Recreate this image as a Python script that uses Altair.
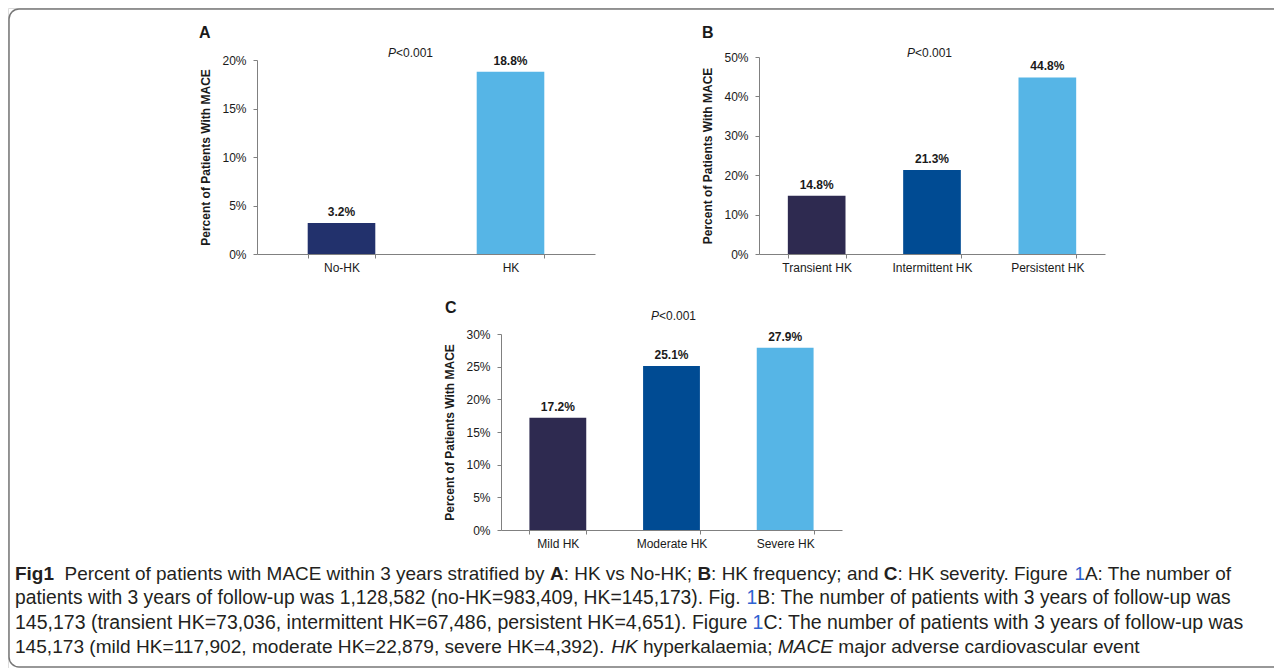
import altair as alt
import pandas as pd

# ---------------- data ----------------
cats_a = ["No-HK", "HK"]
vals_a = [3.2, 18.8]
cats_b = ["Transient HK", "Intermittent HK", "Persistent HK"]
vals_b = [14.8, 21.3, 44.8]
cats_c = ["Mild HK", "Moderate HK", "Severe HK"]
vals_c = [17.2, 25.1, 27.9]
ticks_a = [0, 5, 10, 15, 20]
ticks_b = [0, 10, 20, 30, 40, 50]
ticks_c = [0, 5, 10, 15, 20, 25, 30]
p_letter = "P"
p_rest = "<0.001"
y_title = "Percent of Patients With MACE"

caption_texts = [
    ["Fig1", "\u00a0\u00a0Percent of patients with MACE within 3 years stratified by ", "A",
     ": HK vs No-HK; ", "B", ": HK frequency; and ", "C", ": HK severity. Figure ", "1",
     "A: The number of"],
    ["patients with 3 years of follow-up was 1,128,582 (no-HK=983,409, HK=145,173). Fig. ", "1",
     "B: The number of patients with 3 years of follow-up was"],
    ["145,173 (transient HK=73,036, intermittent HK=67,486, persistent HK=4,651). Figure ", "1",
     "C: The number of patients with 3 years of follow-up was"],
    ["145,173 (mild HK=117,902, moderate HK=22,879, severe HK=4,392). ", "HK",
     " hyperkalaemia; ", "MACE", " major adverse cardiovascular event"],
]

# ---------------- styles / layout ----------------
caption_styles = [
    ["b", "n", "b", "n", "b", "n", "b", "n", "l", "n"],
    ["n", "l", "n"],
    ["n", "l", "n"],
    ["n", "i", "n", "i", "n"],
]
OX, OY = 8, 10                      # page position of the view origin
W, H = 1266, 660
cap_x0 = 15
cap_base = [582, 606, 631, 655]     # page baselines of caption lines
cap_size = [18.95, 19.3, 19.5, 19.1]

colors_a = ["#22316c", "#56b5e6"]
colors_bc = ["#2e2a50", "#004b93", "#56b5e6"]
FONT = "Liberation Sans"
CAP_COLOR = "#231f20"
LINK_COLOR = "#2f63d1"
AXIS_GREY = "#808080"
TXT = "#1a1a1a"

# Arial / Liberation Sans advance widths (per 1000 em) used to lay out the caption runs
_REG = dict(zip("abcdefghijklmnopqrstuvwxyz",
                [556, 556, 500, 556, 556, 278, 556, 556, 222, 222, 500, 222, 833, 556, 556, 556,
                 556, 333, 500, 278, 556, 500, 722, 500, 500, 500]))
_REG.update(zip("ABCDEFGHIJKLMNOPQRSTUVWXYZ",
                [667, 667, 722, 722, 667, 611, 778, 722, 278, 500, 667, 556, 833, 722, 778, 667,
                 778, 722, 667, 611, 722, 667, 944, 667, 667, 611]))
_REG.update({d: 556 for d in "0123456789"})
_REG.update({" ": 278, "\u00a0": 278, "(": 333, ")": 333, ",": 278, "-": 333, ".": 278,
             ":": 278, ";": 278, "=": 584, "<": 584, "%": 889})
_BOLD = {"F": 611, "i": 278, "g": 611, "1": 556, "A": 722, "B": 722, "C": 722, " ": 278}


def run_width(s, size, bold=False):
    tot = 0
    for ch in s:
        tot += (_BOLD.get(ch, _REG.get(ch, 556)) if bold else _REG.get(ch, 556))
    return tot * size / 1000.0


def panel(cats, vals, ticks, colors, pad, left, right, top, bottom):
    x0, x1 = left - OX, right - OX
    y0, y1 = bottom - OY, top - OY
    df = pd.DataFrame({"cat": cats, "val": vals, "label": [f"{v:.1f}%" for v in vals]})
    x = alt.X("cat:N", sort=cats,
              scale=alt.Scale(range=[x0, x1], paddingInner=pad, paddingOuter=pad / 2),
              axis=alt.Axis(title=None, orient="bottom", offset=y0 - H, labelAngle=0,
                            tickBand="extent", tickSize=4, labelPadding=4, labelFont=FONT,
                            labelFontSize=12, labelColor=TXT, domainColor=AXIS_GREY,
                            tickColor=AXIS_GREY, grid=False, labelOverlap=False))
    y = alt.Y("val:Q",
              scale=alt.Scale(domain=[ticks[0], ticks[-1]], range=[y0, y1], nice=False),
              axis=alt.Axis(orient="left", offset=-x0, values=ticks,
                            labelExpr="datum.value + '%'", title=y_title,
                            titleFont=FONT, titleFontSize=12, titleFontWeight="bold",
                            titleColor=TXT, titlePadding=9, labelFont=FONT,
                            labelFontSize=12, labelColor=TXT, labelPadding=7, tickSize=4,
                            domainColor=AXIS_GREY, tickColor=AXIS_GREY, grid=False,
                            labelOverlap=False))
    base = alt.Chart(df)
    bars = base.mark_bar().encode(
        x=x, y=y,
        color=alt.Color("cat:N", scale=alt.Scale(domain=cats, range=colors), legend=None))
    labels = base.mark_text(baseline="bottom", dy=-4, font=FONT, fontSize=12,
                            fontWeight="bold", color=TXT).encode(x=x, y=y, text="label:N")
    return alt.layer(bars, labels)


def note(text, px, py, **kw):
    d = pd.DataFrame({"t": [text]})
    return alt.Chart(d).mark_text(align="left", baseline="middle", font=FONT,
                                  color=TXT, **kw).encode(
        x=alt.value(px - OX), y=alt.value(py - OY), text="t:N")


def cap_run(text, style, px, py, size):
    kw = dict(align="left", baseline="alphabetic", font=FONT, fontSize=size, color=CAP_COLOR)
    if style == "b":
        kw["fontWeight"] = "bold"
    elif style == "i":
        kw["fontStyle"] = "italic"
    elif style == "l":
        kw["color"] = LINK_COLOR
    d = pd.DataFrame({"t": [text]})
    return alt.Chart(d).mark_text(**kw).encode(
        x=alt.value(px - OX), y=alt.value(py - OY), text="t:N")


caption_layers = []
for li, segs in enumerate(caption_texts):
    xcur = cap_x0
    size = cap_size[li]
    for seg, st in zip(segs, caption_styles[li]):
        stripped = seg.lstrip(" \u00a0")
        lead = seg[: len(seg) - len(stripped)]
        body = stripped.rstrip(" \u00a0")
        caption_layers.append(
            cap_run(body, st, xcur + run_width(lead, size, st == "b"), cap_base[li], size))
        xcur += run_width(seg, size, st == "b")

frame = alt.Chart(pd.DataFrame({"f": [0]})).mark_rect(
    filled=False, fillOpacity=0, stroke="#777777", strokeWidth=1.5, cornerRadius=10,
    clip=True).encode(
    x=alt.value(9 - OX), x2=alt.value(W + 40),
    y=alt.value(11 - OY), y2=alt.value(669 - OY))

A = panel(cats_a, vals_a, ticks_a, colors_a, 0.6, 257, 595, 62, 256)
B = panel(cats_b, vals_b, ticks_b, colors_bc, 0.5, 759, 1105, 59, 256)
C = panel(cats_c, vals_c, ticks_c, colors_bc, 0.5, 501, 842, 336, 532)

notes = [
    note("A", 199, 35, fontSize=16, fontWeight="bold"),
    note("B", 702, 35, fontSize=16, fontWeight="bold"),
    note("C", 445, 310, fontSize=16, fontWeight="bold"),
    note(p_letter, 388, 54.5, fontSize=12, fontStyle="italic"),
    note(p_rest, 396, 54.5, fontSize=12),
    note(p_letter, 907, 54.5, fontSize=12, fontStyle="italic"),
    note(p_rest, 915, 54.5, fontSize=12),
    note(p_letter, 651, 318, fontSize=12, fontStyle="italic"),
    note(p_rest, 659, 318, fontSize=12),
]

chart = alt.layer(frame, A, B, C, *notes, *caption_layers).resolve_scale(
    x="independent", y="independent", color="independent"
).resolve_axis(x="independent", y="independent").properties(
    width=W, height=H,
    padding={"left": 0, "top": 0, "right": 0, "bottom": 0},
).configure_view(strokeWidth=0, fill="white").configure(background="white")

chart.save("out.html", embed_options={"renderer": "svg", "actions": False})
